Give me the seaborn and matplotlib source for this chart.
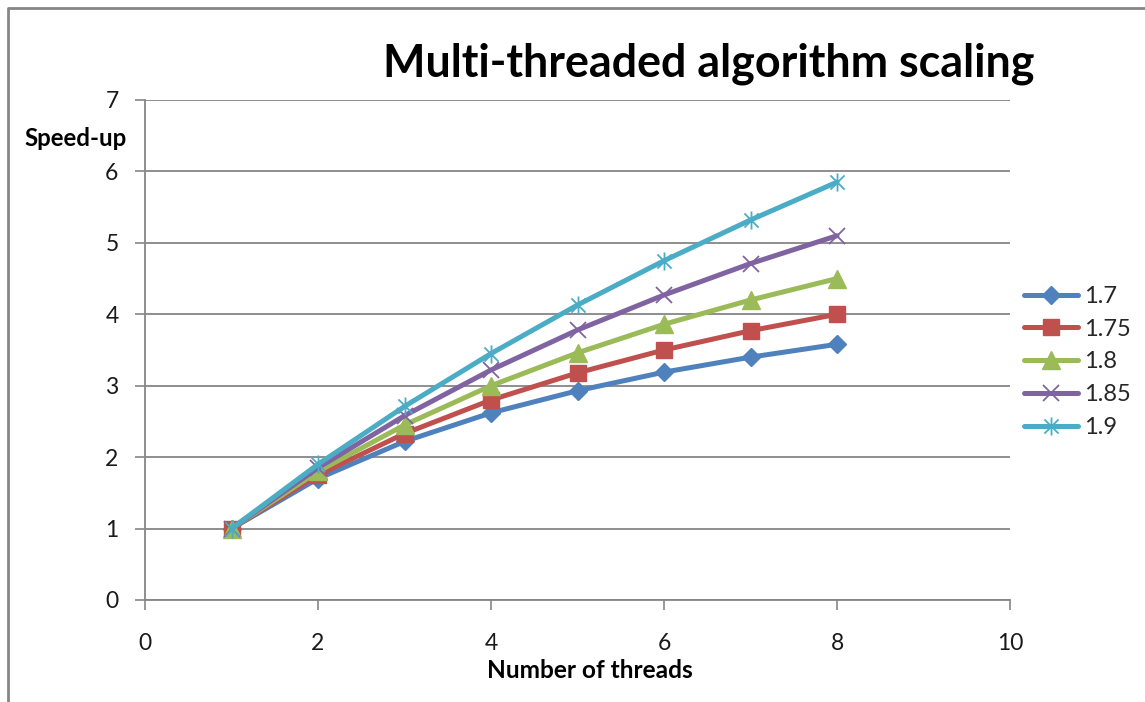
import numpy as np
import pandas as pd
import matplotlib
matplotlib.use("Agg")
import matplotlib.pyplot as plt
import seaborn as sns
from matplotlib.path import Path
from matplotlib.lines import Line2D
from matplotlib import font_manager as fm

# ---------------- data ----------------
threads = [1, 2, 3, 4, 5, 6, 7, 8]
series_names = ["1.7", "1.75", "1.8", "1.85", "1.9"]
s_170 = [1.00, 1.70, 2.22, 2.62, 2.93, 3.19, 3.40, 3.58]
s_175 = [1.00, 1.75, 2.33, 2.80, 3.18, 3.50, 3.77, 4.00]
s_180 = [1.00, 1.80, 2.45, 3.00, 3.46, 3.86, 4.20, 4.50]
s_185 = [1.00, 1.85, 2.58, 3.22, 3.78, 4.27, 4.71, 5.10]
s_190 = [1.00, 1.90, 2.71, 3.45, 4.13, 4.75, 5.32, 5.85]
x_ticks = [0, 2, 4, 6, 8, 10]
y_ticks = [0, 1, 2, 3, 4, 5, 6, 7]
title_text = "Multi-threaded algorithm scaling"
x_label = "Number of threads"
y_label = "Speed-up"

# ---------------- style ----------------
W, H, DPI = 1145, 702, 100
sns.set_theme(style="white")
available = {f.name for f in fm.fontManager.ttflist}
def pick(*cands):
    for c in cands:
        if c in available:
            return c
    return "DejaVu Sans"
FONT = pick("Lato", "Open Sans", "DejaVu Sans")
plt.rcParams["font.family"] = [FONT, "DejaVu Sans"]

GRID = "#868686"
colors = ["#4F81BD", "#C0504D", "#9BBB59", "#8064A2", "#4BACC6"]
star = Path([(-0.9, -0.9), (0.9, 0.9), (-0.9, 0.9), (0.9, -0.9), (0, -1.15), (0, 1.15)],
            [Path.MOVETO, Path.LINETO] * 3)
markers = ["D", "s", "^", "x", star]
msizes = [9.0, 12.0, 13.5, 12.0, 13.0]
mews = [1.0, 1.0, 1.0, 1.3, 1.3]
LW = 3.6

fig = plt.figure(figsize=(W / DPI, H / DPI), dpi=DPI)
fig.patch.set_facecolor("white")
ax = fig.add_axes([145 / W, 1 - 600 / H, (1010 - 145) / W, (600 - 100) / H])
ax.set_facecolor("white")

all_series = [s_170, s_175, s_180, s_185, s_190]
for i, (name, vals) in enumerate(zip(series_names, all_series)):
    df = pd.DataFrame({"threads": threads, "speedup": vals})
    sns.lineplot(data=df, x="threads", y="speedup", ax=ax, color=colors[i], lw=LW,
                 marker=markers[i], markersize=msizes[i], markeredgecolor=colors[i],
                 markerfacecolor=colors[i], markeredgewidth=mews[i], errorbar=None,
                 legend=False, zorder=3 + i)

ax.set_xlim(0, 10)
ax.set_ylim(0, 7)
ax.set_xticks(x_ticks)
ax.set_yticks(y_ticks)
ax.set_xticklabels([str(v) for v in x_ticks])
ax.set_yticklabels([str(v) for v in y_ticks])
ax.set_xlabel("")
ax.set_ylabel("")
ax.yaxis.grid(True, color=GRID, lw=1.3)
ax.xaxis.grid(False)
ax.set_axisbelow(True)
for s in ["top", "right"]:
    ax.spines[s].set_visible(False)
for s in ["left", "bottom"]:
    ax.spines[s].set_color(GRID)
    ax.spines[s].set_linewidth(1.3)
ax.tick_params(axis="both", direction="out", length=7, width=1.2, color=GRID,
               labelsize=16.5, labelcolor="#1a1a1a")
ax.tick_params(axis="y", pad=12, left=True)
ax.tick_params(axis="x", pad=17, bottom=True)

# titles / labels
t = fig.text(709 / W, 1 - 64 / H, title_text, ha="center", va="center",
             fontsize=31, fontweight="bold", color="black")
xl = fig.text(590 / W, 1 - 670 / H, x_label, ha="center", va="center",
              fontsize=15, fontweight="bold", color="black")
yl = fig.text(76 / W, 1 - 139 / H, y_label, ha="center", va="center",
              fontsize=15, fontweight="bold", color="black")

# fit text widths to reference
fig.canvas.draw()
r = fig.canvas.get_renderer()
for txt, target in [(t, 652), (xl, 206), (yl, 103)]:
    w = txt.get_window_extent(r).width
    txt.set_fontsize(txt.get_fontsize() * target / w)

# legend
handles = [Line2D([], [], color=colors[i], lw=LW, marker=markers[i], markersize=msizes[i],
                  markeredgecolor=colors[i], markerfacecolor=colors[i],
                  markeredgewidth=mews[i]) for i in range(len(series_names))]
fig.legend(handles, series_names, loc="center left", bbox_to_anchor=(1024 / W, 1 - 362 / H),
           frameon=False, handlelength=2.3, handletextpad=0.25, labelspacing=0.5,
           borderpad=0, borderaxespad=0, fontsize=17)

# outer chart border (top and left visible)
fig.add_artist(Line2D([8 / W, 8 / W, 1.0], [0.0, 1 - 8 / H, 1 - 8 / H],
                      transform=fig.transFigure, color=GRID, lw=2.0))

fig.savefig("out.png", dpi=DPI, facecolor="white")
